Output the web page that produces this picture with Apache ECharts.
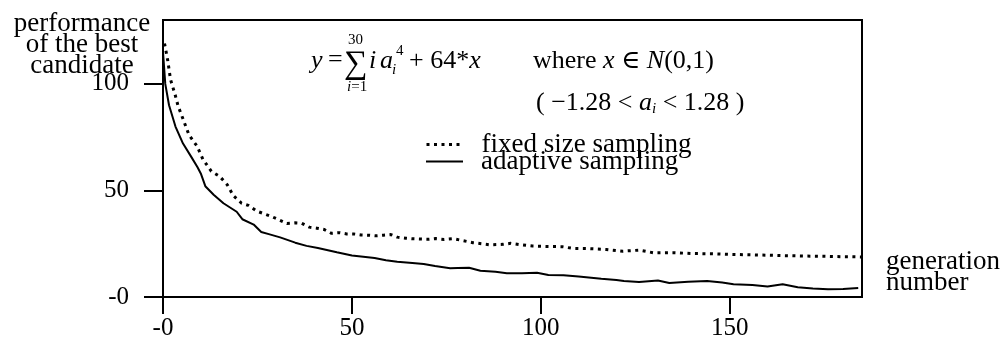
<!DOCTYPE html>
<html>
<head>
<meta charset="utf-8">
<script src="https://cdn.jsdelivr.net/npm/echarts@6/dist/echarts.min.js"></script>
<style>
  html, body { margin: 0; padding: 0; background: #fff; }
  #chart { width: 1003px; height: 350px; }
</style>
</head>
<body>
<div id="chart"></div>
<script>
// ---- data ----
const adaptiveGen = [0, 0.6, 1.6, 3.3, 5.3, 7.4, 9.1, 10, 11.2, 13.4, 16, 19.5, 21, 24, 26, 28, 31, 35, 38, 41, 46, 50, 56, 59, 62, 66, 69, 72, 76, 78, 81, 84, 88, 91, 95, 99, 102, 106, 110, 116, 120, 122, 126, 131, 134, 139, 144, 148, 151, 156, 160, 164, 168, 172, 176, 180, 184];
const adaptiveVal = [115, 100, 90, 80, 72, 66, 61, 58, 52, 48, 44, 40, 36.5, 34, 30.5, 29.5, 28, 25.5, 24, 23, 21, 19.5, 18.3, 17.2, 16.5, 16, 15.5, 14.5, 13.5, 13.6, 13.7, 12.3, 11.8, 11.2, 11.2, 11.4, 10.3, 10.2, 9.6, 8.6, 8, 7.5, 7, 7.7, 6.6, 7.2, 7.5, 6.8, 6, 5.6, 4.9, 6, 4.6, 4, 3.6, 3.8, 4.2];

const fixedGen = [0.4, 1.2, 2, 3.2, 4, 5.2, 6.9, 9, 10.6, 12.8, 15, 17, 18.6, 20.8, 22.6, 24.8, 26.7, 28.7, 30.7, 32.8, 34.9, 36.7, 38.7, 40.7, 42.6, 44.6, 46.6, 48.6, 50.5, 52.4, 54.4, 56.4, 58.3, 60.3, 62, 64.3, 66.3, 68.2, 70.3, 72.2, 74.4, 76.7, 82, 86.5, 90, 92, 94.3, 97.8, 102, 105.7, 108.5, 112.9, 117.3, 121.7, 126, 130, 135, 140, 145, 150, 155, 160, 165, 170, 175, 180, 185];
const fixedVal = [119, 111.6, 102, 95, 89.6, 84, 76, 70.8, 64.5, 59, 56.6, 52.7, 47.6, 44, 43, 40.3, 39.1, 37.8, 36.2, 34.5, 34.8, 34.6, 32.8, 32.3, 31.7, 29.9, 30.2, 29.6, 29.6, 29.1, 29, 28.7, 29, 29.3, 28.1, 27.6, 27.3, 27.2, 27.1, 27.4, 27, 27.4, 25.5, 24.5, 24.7, 25.2, 24.6, 23.9, 23.7, 23.6, 22.8, 22.7, 22.3, 21.5, 22, 20.7, 20.8, 20.4, 20.3, 20, 19.8, 19.6, 19.4, 19.2, 19.1, 18.9, 18.8];

const seriesNames = ['fixed size sampling', 'adaptive sampling'];
const xTicks = [0, 50, 100, 150];
const yTicks = [0, 50, 100];
const yTitle = 'performance\nof the best\ncandidate';
const xTitle = 'generation\nnumber';

// ---- chart ----
const SERIF = '"Liberation Serif", "DejaVu Serif", serif';
const pairs = (xs, ys) => xs.map((x, i) => [x, ys[i]]);
const tickLabel = v => (v === 0 ? '-0' : String(v));

const chart = echarts.init(document.getElementById('chart'), null, { renderer: 'canvas' });

const txt = (x, y, text, size, style) => ({
  type: 'text', x: x, y: y, silent: true,
  style: Object.assign({
    text: text, fill: '#000', font: size + 'px ' + SERIF,
    verticalAlign: 'middle', align: 'left'
  }, style || {})
});
const italic = (x, y, text, size) => txt(x, y, text, size, { font: 'italic ' + size + 'px ' + SERIF });

const DOTTED = { color: '#000', width: 3, type: [3, 4.5], cap: 'butt' };
const SOLID = { color: '#000', width: 2, type: 'solid' };

const legendBase = {
  orient: 'vertical', left: 425, padding: 0,
  itemWidth: 37, itemHeight: 16, itemGap: 0, selectedMode: false,
  itemStyle: { opacity: 0 },
  textStyle: { color: '#000', fontFamily: SERIF, fontSize: 27, padding: [0, 0, 0, 13] }
};

chart.setOption({
  animation: false,
  backgroundColor: '#fff',
  grid: {
    left: 163, right: 141, top: 20, bottom: 53,
    show: true, borderColor: '#000', borderWidth: 2, backgroundColor: 'transparent'
  },
  xAxis: {
    type: 'value', min: 0, max: 185, interval: 50,
    axisLine: { show: true, onZero: false, lineStyle: { color: '#000', width: 2 } },
    axisTick: { show: true, inside: false, length: 17, lineStyle: { color: '#000', width: 2 }, customValues: xTicks },
    axisLabel: { show: true, customValues: xTicks, formatter: tickLabel, color: '#000', fontFamily: SERIF, fontSize: 25, margin: 19 },
    splitLine: { show: false }
  },
  yAxis: {
    type: 'value', min: 0, max: 130, interval: 50,
    axisLine: { show: true, lineStyle: { color: '#000', width: 2 } },
    axisTick: { show: true, inside: false, length: 19, lineStyle: { color: '#000', width: 2 }, customValues: yTicks },
    axisLabel: { show: true, customValues: yTicks, formatter: tickLabel, color: '#000', fontFamily: SERIF, fontSize: 25, margin: 34 },
    splitLine: { show: false }
  },
  legend: [
    Object.assign({}, legendBase, { top: 131, data: [{ name: seriesNames[0], lineStyle: DOTTED, itemStyle: { opacity: 0 } }] }),
    Object.assign({}, legendBase, { top: 148, data: [{ name: seriesNames[1], lineStyle: SOLID, itemStyle: { opacity: 0 } }] })
  ],
  series: [
    {
      name: seriesNames[0], type: 'line', data: pairs(fixedGen, fixedVal),
      symbol: 'none', showSymbol: false, smooth: false,
      lineStyle: DOTTED, itemStyle: { color: '#000', opacity: 0 }
    },
    {
      name: seriesNames[1], type: 'line', data: pairs(adaptiveGen, adaptiveVal),
      symbol: 'none', showSymbol: false, smooth: false,
      lineStyle: SOLID, itemStyle: { color: '#000', opacity: 0 }
    }
  ],
  graphic: [
    // axis titles
    txt(82, 13, yTitle, 27, { align: 'center', verticalAlign: 'top', lineHeight: 21 }),
    txt(886, 251, xTitle, 27, { align: 'left', verticalAlign: 'top', lineHeight: 21 }),
    // formula, first line
    italic(311, 61, 'y', 26),
    txt(328, 60, '=', 26),
    txt(344, 64, '\u2211', 33),
    txt(348, 40, '30', 15),
    txt(347, 87, '{it|i}=1', 15, { rich: { it: { font: 'italic 15px ' + SERIF } } }),
    italic(369, 61, 'i', 26),
    italic(380, 61, 'a', 26),
    italic(392, 70, 'i', 15),
    txt(396, 51, '4', 15),
    txt(409, 61, '+ 64*{it|x}', 26, { rich: { it: { font: 'italic 26px ' + SERIF } } }),
    txt(533, 61, 'where {it|x} \u2208 {it|N}(0,1)', 26, { rich: { it: { font: 'italic 26px ' + SERIF } } }),
    // formula, second line
    txt(536, 103, '( \u22121.28 < {it|a}{sub|i} < 1.28 )', 26, {
      lineHeight: 28,
      rich: {
        it: { font: 'italic 26px ' + SERIF, lineHeight: 28 },
        sub: { font: 'italic 15px ' + SERIF, lineHeight: 14, verticalAlign: 'bottom' }
      }
    })
  ]
});
</script>
</body>
</html>
